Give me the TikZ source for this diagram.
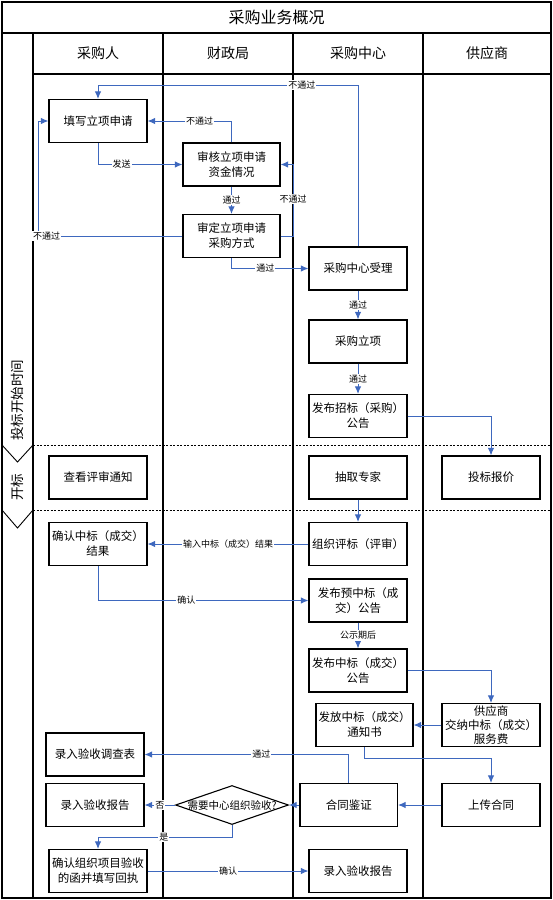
\documentclass[tikz,border=0pt]{standalone}
\usepackage{fontspec}
\setmainfont{Noto Sans CJK SC}
\usetikzlibrary{shapes.geometric,arrows.meta}
\definecolor{lineblue}{RGB}{62,104,190}
\begin{document}
\begin{tikzpicture}[x=1pt,y=-1pt,
  box/.style={draw=black, line width=1.1pt, minimum width=98pt, minimum height=43pt, align=center, inner sep=1pt, font=\fontsize{11.5}{15}\selectfont},
  conn/.style={draw=lineblue, line width=1pt, -{Latex[length=7.5pt,width=6.5pt]}},
  lbl/.style={fill=white, inner sep=1pt, font=\fontsize{9}{9}\selectfont, text=black},
  frame/.style={line width=1.4pt, draw=black},
  hdr/.style={font=\fontsize{14}{14}\selectfont},
  phase/.style={font=\fontsize{13.5}{13.5}\selectfont, rotate=90},
  sep/.style={draw=black, line width=0.9pt, dash pattern=on 2pt off 1.5pt},
  chev/.style={draw=black, line width=0.9pt}
]
\useasboundingbox (0,0) rectangle (553,900);
% frame and lanes
\draw[line width=1.7pt] (2,2) rectangle (551,898);
\draw[frame] (2,33) -- (551,33);
\draw[frame] (33,74) -- (551,74);
\foreach \x in {33,163,293,423} \draw[frame] (\x,33) -- (\x,898);
\draw[sep] (33,445) -- (551,445);
\draw[sep] (33,510) -- (551,510);
\draw[chev] (2,445) -- (17.5,462) -- (33,445);
\draw[chev] (2,510) -- (17.5,528) -- (33,510);
% titles
\node[font=\fontsize{16}{16}\selectfont] (title) at (276.5,17.5) {采购业务概况};
\node[hdr] (h1) at (98,53.5) {采购人};
\node[hdr] (h2) at (228,53.5) {财政局};
\node[hdr] (h3) at (358,53.5) {采购中心};
\node[hdr] (h4) at (487,53.5) {供应商};
\node[phase] (ph1) at (17.5,400) {投标开始时间};
\node[phase] (ph2) at (17.5,487) {开标};
% boxes
\node[box] (a) at (98,121) {填写立项申请};
\node[box, minimum width=97pt] (b) at (231.5,164.5) {审核立项申请\\资金情况};
\node[box, minimum width=97pt] (c) at (231.5,236) {审定立项申请\\采购方式};
\node[box] (d) at (358,268.5) {采购中心受理};
\node[box] (e) at (358,341.5) {采购立项};
\node[box] (f) at (358,416) {发布招标（采购）\\公告};
\node[box] (i) at (98,477.5) {查看评审通知};
\node[box] (g) at (358,477.5) {抽取专家};
\node[box] (h) at (491,477.5) {投标报价};
\node[box] (j) at (98,544) {确认中标（成交）\\结果};
\node[box] (k) at (358,544) {组织评标（评审）};
\node[box] (m) at (358,600.5) {发布预中标（成\\交）公告};
\node[box] (n) at (358,670.5) {发布中标（成交）\\公告};
\node[box, minimum width=97pt] (o) at (364.5,725) {发放中标（成交）\\通知书};
\node[box, font=\fontsize{11.5}{14}\selectfont] (p) at (491,725) {供应商\\交纳中标（成交）\\服务费};
\node[box] (s) at (95,754.5) {录入验收调查表};
\node[box] (u) at (95,805) {录入验收报告};
\node[box, minimum width=97.5pt] (r) at (348.75,805) {合同鉴证};
\node[box] (q) at (491,805) {上传合同};
\node[draw=black, line width=1.1pt, diamond, minimum width=113pt, minimum height=39pt, inner sep=0pt, font=\fontsize{10.5}{11}\selectfont] (t) at (232,805) {\makebox[0pt]{需要中心组织验收?}};
\node[box] (v) at (98,871) {确认组织项目验收\\的函并填写回执};
\node[box] (w) at (358,871) {录入验收报告};
% helper coordinates
\coordinate (topy) at (0,85);
\coordinate (leftx) at (38,0);
\coordinate (rightx) at (293,0);
\coordinate (midy) at (0,758);
\coordinate (yesy) at (0,837);
% connectors
\draw[conn] (a.south) |- node[lbl, pos=0.64] {发送} (b.west);
\draw[conn] (b.north) |- node[lbl, pos=0.69] {不通过} (a.east);
\draw[conn] (b.south) -- node[lbl] {通过} (c.north);
\draw[conn] (c.west) -- node[lbl, pos=0.94] {不通过} (leftx |- c.west) |- (a.west);
\draw[conn] (c.east) -- (rightx |- c.east) |- node[lbl, pos=0.26] {不通过} (b.east);
\draw[conn] (c.south) |- node[lbl, pos=0.72] {通过} (d.west);
\draw[conn] (d.north) -- (d.north |- topy) -| node[lbl, pos=0.108] {不通过} (a.north);
\draw[conn] (d.south) -- node[lbl] {通过} (e.north);
\draw[conn] (e.south) -- node[lbl] {通过} (f.north);
\draw[conn] (f.east) -| (h.north);
\draw[conn] (g.south) -- (k.north);
\draw[conn] (k.west) -- node[lbl] {输入中标（成交）结果} (j.east);
\draw[conn] (j.south) |- node[lbl, pos=0.71] {确认} (m.west);
\draw[conn] (m.south) -- node[lbl] {公示期后} (n.north);
\draw[conn] (n.east) -| (p.north);
\draw[conn] (p.west) -- (o.east);
\draw[conn] (o.south) -- (o.south |- midy) -| (q.north);
\draw[conn] (q.west) -- (r.east);
\draw[conn] (r.north) |- node[lbl, pos=0.714] {通过} (s.east);
\draw[conn] (r.west) -- (t.east);
\draw[conn] (t.west) -- node[lbl] {否} (u.east);
\draw[conn] (t.south) -- (t.south |- yesy) -| node[lbl, pos=0.254] {是} (v.north);
\draw[conn] (v.east) -- node[lbl] {确认} (w.west);
\end{tikzpicture}
\end{document}
